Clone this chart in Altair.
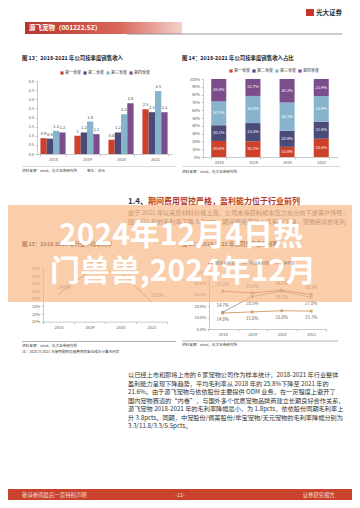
import altair as alt
import pandas as pd

FONT = "Noto Sans CJK SC"
W, H = 344, 492
OX = OY = 8

# ---------------- data ----------------
years = ["2018", "2019", "2020", "2021"]
quarters = ["第一季度", "第二季度", "第三季度", "第四季度"]
q_colors = ["#CD412B", "#4B4B7A", "#87B3CC", "#7C4D8B"]

rev_q1 = [0.87, 1.00, 0.78, 2.45]
rev_q2 = [0.84, 1.18, 1.18, 2.29]
rev_q3 = [1.27, 1.78, 2.18, 3.45]
rev_q4 = [1.18, 1.09, 2.78, 2.29]

share_q1 = [20.6, 20.2, 13.0, 23.4]
share_q2 = [20.1, 23.3, 20.6, 21.8]
share_q3 = [30.5, 34.8, 36.2, 32.9]
share_q4 = [28.8, 21.7, 30.2, 21.9]

margin15 = [24.6, 27.6, 27.5, 23.6]

series16 = ["整体毛利率", "外销毛利率", "净利率"]
s16_colors = ["#B0553A", "#8C8C8C", "#C98A4B"]
s16_a = [33.2, 31.6, 34.0, 30.3]
s16_b = [14.7, 28.5, 33.1, 27.8]
s16_c = [14.0, 15.0, 16.0, 15.7]

y13_ticks = [0, 0.5, 1, 1.5, 2, 2.5, 3, 3.5, 4]
y14_ticks = [0, 10, 20, 30, 40, 50, 60, 70, 80, 90, 100]
y15_ticks = [21, 22, 23, 24, 25, 26, 27, 28]
y16_ticks = [0, 10, 20, 30, 40, 50]

para_top = [
    "由于 2021 年以来原材料价格上涨，公司未将原料成本压力充分向下游客户传导，",
    "因 2021 年的毛利率下降 5.3pcts，期间费用率较上年有所下降，宠物用具的毛利",
]
para_bottom = [
    "以已经上市和即将上市的 6 家宠物公司作为样本统计，2018-2021 年行业整体",
    "盈利能力呈现下降趋势，平均毛利率从 2018 年的 25.8%下降至 2021 年的",
    "21.6%。由于源飞宠物与依依股份主要提供 ODM 业务，在一定程度上避开了",
    "国内宠物赛道的“内卷”，与国外多个优质宠物品牌商建立长期良好合作关系，",
    "源飞宠物 2018-2021 年的毛利率降幅最小，为 1.8pcts，依依股份同期毛利率上",
    "升 3.8pcts。同期，中宠股份/佩蒂股份/乖宝宠物/天元宠物的毛利率降幅分别为",
    "3.3/11.8/3.3/5.5pcts。",
]

# ---------------- helpers ----------------
def px(v):
    return v - OX

def py(v):
    return v - OY

blank = alt.Data(values=[{"k": 0}])

def txt(s, x, y, size=5, color="#333333", weight="normal", align="left",
        baseline="middle", opacity=1.0):
    return alt.Chart(blank).mark_text(
        text=s, font=FONT, fontSize=size, color=color, fontWeight=weight,
        align=align, baseline=baseline, opacity=opacity
    ).encode(x=alt.value(px(x)), y=alt.value(py(y)))

def box(x1, x2, y1, y2, color, opacity=1.0):
    return alt.Chart(blank).mark_rect(color=color, opacity=opacity).encode(
        x=alt.value(px(x1)), x2=alt.value(px(x2)),
        y=alt.value(py(y1)), y2=alt.value(py(y2)))

def hrule(x1, x2, y, color="#BFBFBF", width=0.6):
    return alt.Chart(blank).mark_rule(color=color, strokeWidth=width).encode(
        x=alt.value(px(x1)), x2=alt.value(px(x2)), y=alt.value(py(y)))

def ax(orient, offset, **kw):
    base = dict(orient=orient, offset=offset, title=None, grid=False,
                labelFont=FONT, labelFontSize=4, labelColor="#595959",
                domainColor="#A6A6A6", tickColor="#A6A6A6", tickSize=2,
                labelPadding=1.5, domainWidth=0.6, tickWidth=0.6)
    base.update(kw)
    return alt.Axis(**base)

def legend(x, y, **kw):
    base = dict(orient="none", legendX=px(x), legendY=py(y), direction="horizontal",
                title=None, labelFont=FONT, labelFontSize=4, labelColor="#404040",
                columnPadding=2, symbolSize=10, labelOffset=1, padding=0,
                rowPadding=0, symbolStrokeWidth=0, symbolType="square")
    base.update(kw)
    return alt.Legend(**base)

layers = []

# ---------------- header ----------------
grad = alt.LinearGradient(
    gradient="linear",
    stops=[alt.GradientStop(color="#B8342A", offset=0),
           alt.GradientStop(color="#D9675A", offset=0.6),
           alt.GradientStop(color="#F3D2CB", offset=1)],
    x1=0, x2=1, y1=0, y2=0)
layers.append(alt.Chart(blank).mark_rect(color=grad).encode(
    x=alt.value(px(25)), x2=alt.value(px(182)), y=alt.value(py(22)), y2=alt.value(py(34))))
layers.append(hrule(127, 342, 34, color="#7F7F7F", width=0.8))
layers.append(txt("源飞宠物（001222.SZ）", 29, 28, size=6.5, color="white", weight="bold"))
layers.append(box(306, 314, 9, 16, "#C8342A"))
layers.append(txt("光大证券", 316, 12.5, size=6.5, color="#333333", weight="bold"))

# ---------------- figure titles ----------------
layers.append(txt("图 13：2018-2021 年公司按季度销售收入", 22, 57.5, size=5.4, color="#222222", weight="bold"))
layers.append(txt("图 14：2018-2021 年公司按季度销售收入占比", 182, 58, size=5.4, color="#222222", weight="bold"))

# ---------------- figure 13 ----------------
rev = [rev_q1, rev_q2, rev_q3, rev_q4]
rows13 = []
for i, yr in enumerate(years):
    for j, q in enumerate(quarters):
        v = rev[j][i]
        rows13.append(dict(year=yr, quarter=q, qi=j, value=v, label=f"{round(v, 1):g}"))
df13 = pd.DataFrame(rows13)

x13 = alt.X("year:N", sort=years,
            scale=alt.Scale(range=[px(36), px(172)], paddingInner=0.26, paddingOuter=0.13),
            axis=ax("bottom", py(154) - H, labelAngle=0, tickBand="extent"))
xo13 = alt.XOffset("quarter:N", sort=quarters, scale=alt.Scale(paddingInner=0, paddingOuter=0))
y13 = alt.Y("value:Q", scale=alt.Scale(domain=[0, 4], range=[py(154), py(81)], nice=False),
            axis=ax("left", -px(37), values=y13_ticks, format=".1f"))
c13 = alt.Color("quarter:N", sort=quarters,
                scale=alt.Scale(domain=quarters, range=q_colors),
                legend=legend(60, 71))
bars13 = alt.Chart(df13).mark_bar().encode(x=x13, xOffset=xo13, y=y13, color=c13)
lab13 = alt.Chart(df13).mark_text(dy=-2, baseline="bottom", fontSize=4, color="#404040", font=FONT).encode(
    x=x13, xOffset=xo13, y=y13, text="label:N")
layers.append(alt.layer(bars13, lab13))

# ---------------- figure 14 ----------------
share = [share_q1, share_q2, share_q3, share_q4]
rows14 = []
for i, yr in enumerate(years):
    cum = 0.0
    for j, q in enumerate(quarters):
        v = share[j][i]
        rows14.append(dict(year=yr, quarter=q, qi=j, share=v, mid=cum + v / 2, label=f"{v:.1f}%"))
        cum += v
df14 = pd.DataFrame(rows14)

x14 = alt.X("year:N", sort=years,
            scale=alt.Scale(range=[px(202), px(338)], paddingInner=0.56, paddingOuter=0.27),
            axis=ax("bottom", py(157) - H, labelAngle=0, tickBand="extent"))
sc14 = alt.Scale(domain=[0, 100], range=[py(157), py(79)], nice=False)
ax14 = ax("left", -px(203), values=y14_ticks, labelExpr="datum.value + '%'")
c14 = alt.Color("quarter:N", sort=quarters,
                scale=alt.Scale(domain=quarters, range=q_colors),
                legend=legend(229, 69))
bars14 = alt.Chart(df14).mark_bar().encode(
    x=x14, y=alt.Y("share:Q", stack="zero", scale=sc14, axis=ax14),
    color=c14, order=alt.Order("qi:Q", sort="ascending"))
lab14 = alt.Chart(df14).mark_text(fontSize=4, color="white", font=FONT).encode(
    x=x14, y=alt.Y("mid:Q", scale=sc14, axis=ax14), text="label:N")
layers.append(alt.layer(bars14, lab14))

# sources
layers.append(hrule(22, 176, 166.5))
layers.append(hrule(182, 340, 166.5))
layers.append(txt("资料来源：wind，光大证券研究所", 22, 171, size=3.6, color="#404040"))
layers.append(txt("单位：亿元", 87, 171, size=3.6, color="#404040"))
layers.append(txt("资料来源：wind，光大证券研究所", 182, 171.5, size=3.6, color="#404040"))

# ---------------- section heading ----------------
layers.append(txt("1.4、", 128, 202, size=8, color="#3A3A3A", weight="bold"))
layers.append(txt("期间费用管控严格，盈利能力位于行业前列", 148, 202, size=8, color="#B23A2C", weight="bold"))
for k, line in enumerate(para_top):
    layers.append(txt(line, 128, 213 + k * 8.7, size=6.2, color="#555555"))

# ---------------- figure 15 / 16 titles ----------------
layers.append(txt("图 15：2018-2021 年行业平均毛利率", 22, 244, size=5.4, color="#222222", weight="bold"))
layers.append(txt("图 16：2018-2021 年公司分产品毛利率", 182, 244, size=5.4, color="#222222", weight="bold"))

# ---------------- figure 15 ----------------
df15 = pd.DataFrame(dict(year=years, v=margin15, label=[f"{v:.1f}%" for v in margin15]))
x15 = alt.X("year:N", sort=years,
            scale=alt.Scale(range=[px(43), px(167)], paddingInner=0, paddingOuter=0),
            axis=ax("bottom", py(321.6) - H, labelAngle=0, tickBand="extent"))
y15 = alt.Y("v:Q", scale=alt.Scale(domain=[21, 28], range=[py(321.6), py(268.4)], nice=False, zero=False),
            axis=ax("left", -px(43), values=y15_ticks, labelExpr="datum.value + '%'"))
line15 = alt.Chart(df15).mark_line(color="#B86E43", strokeWidth=0.8).encode(x=x15, y=y15)
lab15 = alt.Chart(df15).mark_text(dy=-6, dx=6, fontSize=4.3, color="#7A5A48", font=FONT).encode(
    x=x15, y=y15, text="label:N")
layers.append(alt.layer(line15, lab15))

# ---------------- figure 16 ----------------
rows16 = []
for name, vals in zip(series16, [s16_a, s16_b, s16_c]):
    for yr, v in zip(years, vals):
        rows16.append(dict(year=yr, series=name, v=v, label=f"{v:.1f}%"))
df16 = pd.DataFrame(rows16)
x16 = alt.X("year:N", sort=years,
            scale=alt.Scale(range=[px(208), px(326)], paddingInner=0, paddingOuter=0),
            axis=ax("bottom", py(329) - H, labelAngle=0, tickBand="extent"))
sc16 = alt.Scale(domain=[0, 50], range=[py(329), py(272)], nice=False)
ax16 = ax("left", -px(209), values=y16_ticks, labelExpr="format(datum.value, '.1f') + '%'")
y16 = alt.Y("v:Q", scale=sc16, axis=ax16)
c16 = alt.Color("series:N", sort=series16,
                scale=alt.Scale(domain=series16, range=s16_colors),
                legend=legend(207, 260, symbolType="stroke", symbolStrokeWidth=1,
                              symbolSize=30, labelOpacity=0.6, symbolOpacity=0.6,
                              columnPadding=4))
line16 = alt.Chart(df16).mark_line(strokeWidth=0.8).encode(x=x16, y=y16, color=c16)
pts16 = alt.Chart(df16).mark_point(filled=True, size=8, shape="square").encode(
    x=x16, y=y16, color=alt.Color("series:N", sort=series16,
                                  scale=alt.Scale(domain=series16, range=s16_colors), legend=None))
above = "datum.series === '%s' || (datum.series === '%s' && datum.year === '2018')" % (series16[0], series16[1])
lab16a = alt.Chart(df16).transform_filter(above).mark_text(
    dy=-6, fontSize=4.3, color="#6B5A50", font=FONT).encode(x=x16, y=y16, text="label:N")
lab16b = alt.Chart(df16).transform_filter("!(" + above + ")").mark_text(
    dy=7, fontSize=4.3, color="#6B5A50", font=FONT).encode(x=x16, y=y16, text="label:N")
layers.append(alt.layer(line16, pts16, lab16a, lab16b))

# sources 15/16
layers.append(hrule(22, 176, 341.5, color="#7F7F7F"))
layers.append(hrule(182, 338, 341, color="#7F7F7F"))
layers.append(txt("资料来源：wind，光大证券研究所", 22, 345.5, size=3.6, color="#404040"))
layers.append(txt("注：2020 与 2021 年使用剔除运输费用的营业成本计算毛利率", 22, 351.5, size=3.6, color="#404040"))
layers.append(txt("资料来源：wind，光大证券研究所", 182, 345, size=3.6, color="#404040"))

# ---------------- overlay + big text ----------------
layers.append(box(8, 352, 205, 302, "#F7B583", opacity=0.68))
layers.append(txt("2024年12月4日热", 181, 236, size=30, color="white", weight="bold", align="center"))
layers.append(txt("门兽兽,2024年12月", 183, 272, size=30, color="white", weight="bold", align="center"))

# ---------------- lower paragraph ----------------
for k, line in enumerate(para_bottom):
    layers.append(txt(line, 128, 375 + k * 8.5, size=6.2, color="#333333"))

# ---------------- footer ----------------
layers.append(box(8, 352, 489, 500, "#C9432C"))
layers.append(txt("敬请参阅最后一页特别声明", 22, 494.5, size=5.4, color="#F6DCD5"))
layers.append(txt("-12-", 180, 494.5, size=5.4, color="#F6DCD5", align="center"))
layers.append(txt("证券研究报告", 335, 494.5, size=5.4, color="#F6DCD5", align="right"))

chart = alt.layer(*layers).resolve_scale(
    x="independent", y="independent", color="independent"
).properties(
    width=W, height=H, padding=0,
    autosize=alt.AutoSizeParams(type="none")
).configure(
    font=FONT, background="white"
).configure_view(stroke=None)

chart.save("out.html", embed_options={"renderer": "svg", "actions": False})
